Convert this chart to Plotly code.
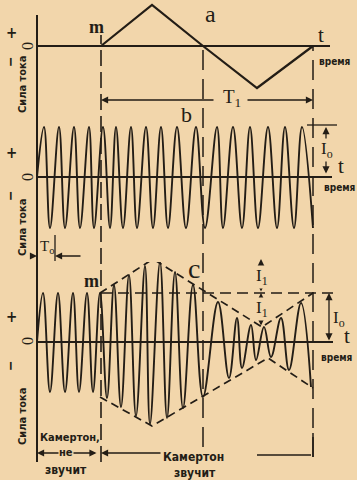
import plotly.graph_objects as go

W, H = 357, 480
BG = "#f2d6ab"
INK = "#231d16"

# ---------------- data (time in arbitrary units, current in units of I0) ----------------
t_m = 6.4       # tuning fork starts sounding (m)
t_half = 16.6   # half beat period
t_end = 27.6    # end of beat period T1
t_T0 = 1.8      # end of T0 marker

# panel a: low-frequency (beat) current
a_t = [6.4, 11.5, 16.6, 22.0, 27.6]
a_i = [0.0, 0.82, 0.0, -0.84, 0.0]

# panel b: current of the fork frequency (peaks / troughs)
b_t = [0.0, 0.7, 1.3, 2.2, 2.8, 3.7, 4.3, 5.2, 5.7, 6.6, 7.3, 7.9, 8.6, 9.4, 10.0,
       10.9, 11.6, 12.4, 13.1, 14.0, 14.9, 15.9, 16.8, 18.0, 18.6, 19.6, 20.5,
       21.3, 22.1, 23.1, 24.0, 24.8, 25.7, 26.5, 27.6]
b_i = [0.0, 1.0, -1.02, 1.0, -1.02, 1.0, -1.02, 1.0, -1.02, 1.0, -1.02, 1.0, -1.02,
       1.0, -1.02, 1.0, -1.02, 1.0, -1.02, 1.0, -1.02, 1.0, -1.02, 1.0, -1.02,
       1.0, -1.02, 1.0, -1.02, 1.0, -1.02, 1.0, -1.02, 1.0, -1.02]

# panel c: resulting current (beats)
c_t = [0.0, 0.6, 1.3, 2.1, 2.8, 3.6, 4.2, 5.0, 5.6, 6.3, 7.0, 7.7, 8.4, 9.2, 9.9,
       10.8, 11.3, 12.3, 13.0, 13.8, 14.6, 15.6, 16.6, 18.1, 19.2, 20.0, 20.5,
       21.4, 21.9, 22.7, 23.4, 24.4, 25.2, 26.4, 27.4]
c_i = [0.0, 0.98, -1.0, 0.98, -1.0, 0.98, -1.0, 0.98, -1.0, 0.98, -1.12, 1.14, -1.3,
       1.34, -1.48, 1.52, -1.64, 1.6, -1.52, 1.4, -1.32, 1.14, -1.1, 0.8, -0.72,
       0.48, -0.52, 0.34, -0.36, 0.3, -0.3, 0.48, -0.56, 0.78, -0.9]

env_top_t = [6.3, 11.6, 22.5, 27.6]
env_top_i = [0.98, 1.66, 0.3, 0.98]
env_bot_t = [6.3, 11.5, 23.1, 27.6]
env_bot_i = [-1.1, -1.68, -0.32, -0.92]

I0_b = 1.0      # amplitude in panel b
I0_c = 0.98     # I0 level in panel c
I1_top = 1.66   # I0 + I1
I1_low = 0.3    # I0 - I1

# ---------------- layout helpers ----------------
SCALE = 50.0  # px per current unit
X0PX, XSC = 37.0, 10.0


def band(top, bottom, zero):
    return dict(domain=[1 - bottom / H, 1 - top / H],
                range=[(zero - bottom) / SCALE, (zero - top) / SCALE])


def py(p):
    return 1 - p / H


def px(p):
    return p / W


def tx(p):
    return (p - X0PX) / XSC


fig = go.Figure()
LW = 1.9
fig.add_trace(go.Scatter(x=a_t, y=a_i, xaxis="x", yaxis="y3", mode="lines",
                         line=dict(color=INK, width=2.2), hoverinfo="skip"))
fig.add_trace(go.Scatter(x=b_t, y=b_i, xaxis="x", yaxis="y2", mode="lines",
                         line=dict(color=INK, width=LW, shape="spline", smoothing=1.1),
                         hoverinfo="skip"))
fig.add_trace(go.Scatter(x=c_t, y=c_i, xaxis="x", yaxis="y", mode="lines",
                         line=dict(color=INK, width=LW, shape="spline", smoothing=1.1),
                         hoverinfo="skip"))
for et, ei in ((env_top_t, env_top_i), (env_bot_t, env_bot_i)):
    fig.add_trace(go.Scatter(x=et, y=ei, xaxis="x", yaxis="y", mode="lines",
                             line=dict(color=INK, width=1.7, dash="8px,5px"),
                             hoverinfo="skip"))

shapes = []


def hline(yref, y, x0, x1, w=1.6, dash="solid"):
    shapes.append(dict(type="line", xref="x", yref=yref, x0=x0, x1=x1, y0=y, y1=y,
                       line=dict(color=INK, width=w, dash=dash)))


def vline(x, ptop, pbot, w=1.6, dash="solid"):
    shapes.append(dict(type="line", xref="x", yref="paper", x0=x, x1=x,
                       y0=py(pbot), y1=py(ptop), line=dict(color=INK, width=w, dash=dash)))


# zero lines
hline("y3", 0, 0, tx(330), 1.8)
hline("y2", 0, 0, tx(332), 1.8)
hline("y", 0, 0, tx(333), 1.8)
# left axis
vline(0, 15, 462, 2.0)
# event lines
vline(t_m, 35, 462, 1.6, "16px,6px")
vline(t_half, 46, 447, 1.5, "20px,9px")
vline(t_end, 46, 457, 1.5, "20px,9px")
vline(t_end, 433, 457, 1.5)
# T0 tick
vline(t_T0, 235, 261, 1.3)
# panel b I0 tick
hline("y2", 1.04, tx(307), tx(337), 1.3)
# panel c levels
hline("y", I0_c, t_m, tx(333), 1.3, "11px,6px")
hline("y", I1_top, tx(133), tx(270), 1.3, "40px,4px")
# bottom line of "камертон звучит"
hline("y", (342 - 455) / SCALE, tx(257), tx(311), 1.3)

ann = []


def arrow(x, y, ax, ay, yref, both=False):
    ann.append(dict(x=x, y=y, ax=ax, ay=ay, xref="x", yref=yref, axref="x", ayref=yref,
                    text="", showarrow=True, arrowhead=2, arrowsize=1.1, arrowwidth=1.3,
                    arrowcolor=INK, arrowside="end+start" if both else "end",
                    standoff=0, startstandoff=0))


def label(text, x, y, size, family="Liberation Serif", angle=0, bg=None, bold=False):
    d = dict(x=px(x), y=py(y), xref="paper", yref="paper", text=text, showarrow=False,
             xanchor="center", yanchor="middle", textangle=angle,
             font=dict(family=family, size=size, color=INK))
    if bold:
        d["font"]["weight"] = "bold"
    if bg:
        d["bgcolor"] = bg
        d["borderpad"] = 0
    ann.append(d)


yT1 = (177 - 100) / SCALE
arrow(t_m, yT1, tx(215), yT1, "y2")
arrow(t_end, yT1, tx(246), yT1, "y2")
yT0 = (177 - 256) / SCALE
arrow(t_T0, yT0, tx(82), yT0, "y2")
arrow(0, yT0, tx(29), yT0, "y2")
arrow(tx(326), I0_b, tx(326), 0.04, "y2", both=True)
arrow(tx(261), I1_top, tx(261), I0_c, "y", both=True)
arrow(tx(261), I0_c, tx(261), I1_low, "y", both=True)
arrow(tx(329), I0_c, tx(329), 0.0, "y", both=True)
yb = (342 - 453) / SCALE
arrow(0, yb, tx(98), yb, "y", both=True)
arrow(t_m, yb, tx(162), yb, "y")

SER = "Liberation Serif"
SANS = "DejaVu Sans Condensed, DejaVu Sans"
label("a", 210, 14, 24, SER)
label("b", 186, 114, 22, SER)
label("c", 194, 268, 28, SER)
label("m", 96, 27, 18, SER, bold=True)
label("m", 91, 281, 18, SER, bold=True)
label("T<sub>1</sub>", 232, 98, 19, SER, bg=BG)
label("T<sub>o</sub>", 47, 247, 15, SER)
label("I<sub>o</sub>", 327, 150, 17, SER, bg=BG)
label("I<sub>o</sub>", 339, 319, 17, SER)
label("I<sub>1</sub>", 262, 277, 17, SER, bg=BG)
label("I<sub>1</sub>", 262, 309, 17, SER, bg=BG)
for (x, y) in ((321, 35), (341, 166), (347, 336)):
    label("t", x, y, 21, SER)
for (x, y) in ((335, 62), (340, 187), (337, 357)):
    label("<b>время</b>", x, y, 10, SANS)
for (yp, yz, ym, ys) in ((33, 46, 62, 84), (153, 177, 196, 227), (317, 341, 366, 416)):
    label("<b>+</b>", 11, yp, 15, SANS)
    label("0", 27, yz, 16, SER, angle=-90)
    label("<b>−</b>", 10, ym, 14, SANS, angle=-90)
    label("<b>Сила тока</b>", 22, ys, 11, SANS, angle=-90)
label("<b>Камертон,</b>", 70, 437, 11, SANS)
label("<b>не</b>", 66, 452, 11, SANS, bg=BG)
label("<b>звучит</b>", 66, 470, 12, SANS)
label("<b>Камертон</b>", 194, 457, 12, SANS)
label("<b>звучит</b>", 195, 473, 12, SANS)

ax_common = dict(visible=False, showgrid=False, zeroline=False, fixedrange=True)
fig.update_layout(
    width=W, height=H, margin=dict(l=0, r=0, t=0, b=0),
    paper_bgcolor=BG, plot_bgcolor=BG, showlegend=False,
    xaxis=dict(domain=[0, 1], range=[tx(0), tx(W)], **ax_common),
    yaxis=dict(anchor="x", **band(262, 480, 342), **ax_common),
    yaxis2=dict(anchor="x", **band(100, 262, 177), **ax_common),
    yaxis3=dict(anchor="x", **band(0, 100, 46), **ax_common),
    shapes=shapes, annotations=ann,
)
fig.write_html(
    "out.html",
    config={"displayModeBar": False, "staticPlot": True},
    post_script="document.body.style.margin='0';document.body.style.background='%s';" % BG,
)
